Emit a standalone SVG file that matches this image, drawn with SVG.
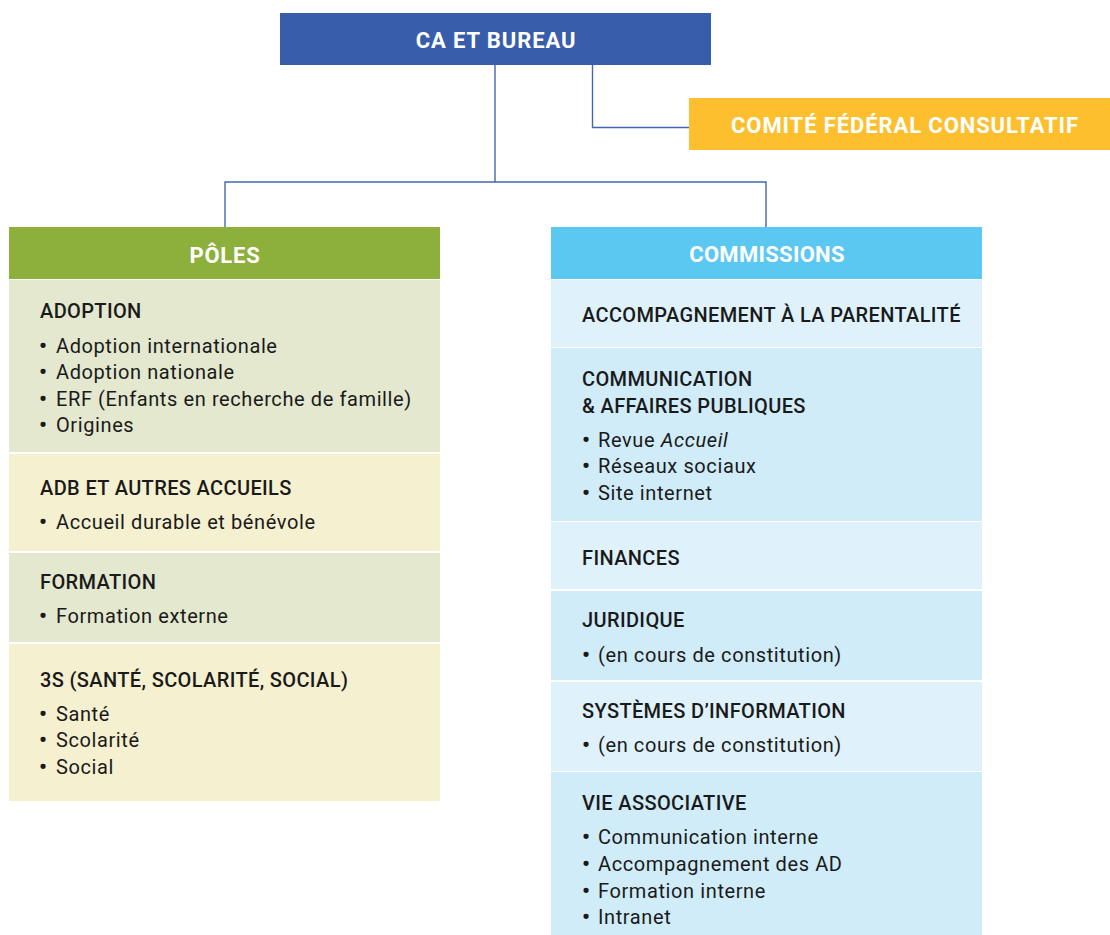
<svg xmlns="http://www.w3.org/2000/svg" width="1110" height="935" viewBox="0 0 1110 935">
<style>
.hdr{font-family:Roboto,"Liberation Sans",sans-serif;font-weight:700;font-size:22px;fill:#fff;text-anchor:middle}
.h{font-family:Roboto,"Liberation Sans",sans-serif;font-weight:500;font-size:20px;letter-spacing:0.37px;fill:#1a1a1a}
.t{font-family:Roboto,"Liberation Sans",sans-serif;font-weight:400;font-size:20px;letter-spacing:0.6px;fill:#1a1a1a}
.bu{font-weight:700;font-size:22px}
.con{fill:none;stroke:#4466b0;stroke-width:1.4}
.g1{fill:#e3e8cf}.g2{fill:#f5f0d0}.b1{fill:#dff2fb}.b2{fill:#d0ecf9}
</style>
<rect width="1110" height="935" fill="#fff"/>
<g id="connectors">
<path class="con" d="M495 65V182M225 228V182H766V228"/>
<path class="con" d="M592.5 65V127.5H690"/>
</g>
<g id="ca-bureau">
<rect x="280" y="13" width="431" height="52" fill="#385daa"/>
<text class="hdr" x="496" y="48" letter-spacing="0.9">CA ET BUREAU</text>
</g>
<g id="comite">
<rect x="689" y="98" width="421" height="52" fill="#fdbf2d"/>
<text class="hdr" x="905" y="133" letter-spacing="0.9">COMITÉ FÉDÉRAL CONSULTATIF</text>
</g>
<g id="poles">
<rect x="9" y="227" width="431" height="52" fill="#8db03c"/>
<text class="hdr" x="225" y="263" letter-spacing="0.8">PÔLES</text>
</g>
<g id="adoption">
<rect class="g1" x="9" y="280" width="431" height="172"/>
<text class="h" x="40" y="318">ADOPTION</text>
<text class="t"><tspan class="bu" x="39" y="353">•</tspan><tspan x="56">Adoption internationale</tspan></text>
<text class="t"><tspan class="bu" x="39" y="379">•</tspan><tspan x="56">Adoption nationale</tspan></text>
<text class="t"><tspan class="bu" x="39" y="406">•</tspan><tspan x="56">ERF (Enfants en recherche de famille)</tspan></text>
<text class="t"><tspan class="bu" x="39" y="432">•</tspan><tspan x="56">Origines</tspan></text>
</g>
<g id="adb">
<rect class="g2" x="9" y="454" width="431" height="97"/>
<text class="h" x="40" y="495">ADB ET AUTRES ACCUEILS</text>
<text class="t"><tspan class="bu" x="39" y="529">•</tspan><tspan x="56">Accueil durable et bénévole</tspan></text>
</g>
<g id="formation">
<rect class="g1" x="9" y="553" width="431" height="89"/>
<text class="h" x="40" y="589">FORMATION</text>
<text class="t"><tspan class="bu" x="39" y="623">•</tspan><tspan x="56">Formation externe</tspan></text>
</g>
<g id="trois-s">
<rect class="g2" x="9" y="644" width="431" height="157"/>
<text class="h" x="40" y="687">3S (SANTÉ, SCOLARITÉ, SOCIAL)</text>
<text class="t"><tspan class="bu" x="39" y="721">•</tspan><tspan x="56">Santé</tspan></text>
<text class="t"><tspan class="bu" x="39" y="747">•</tspan><tspan x="56">Scolarité</tspan></text>
<text class="t"><tspan class="bu" x="39" y="774">•</tspan><tspan x="56">Social</tspan></text>
</g>
<g id="commissions">
<rect x="551" y="227" width="431" height="52" fill="#5bc8f2"/>
<text class="hdr" x="767" y="262" letter-spacing="0.3">COMMISSIONS</text>
</g>
<g id="accompagnement">
<rect class="b1" x="551" y="280" width="431" height="67"/>
<text class="h" x="582" y="322">ACCOMPAGNEMENT À LA PARENTALITÉ</text>
</g>
<g id="communication">
<rect class="b2" x="551" y="348" width="431" height="173"/>
<text class="h" x="582" y="386">COMMUNICATION</text>
<text class="h" x="582" y="413">&amp; AFFAIRES PUBLIQUES</text>
<text class="t"><tspan class="bu" x="582" y="447">•</tspan><tspan x="598">Revue </tspan><tspan font-style="italic">Accueil</tspan></text>
<text class="t"><tspan class="bu" x="582" y="473">•</tspan><tspan x="598">Réseaux sociaux</tspan></text>
<text class="t"><tspan class="bu" x="582" y="500">•</tspan><tspan x="598">Site internet</tspan></text>
</g>
<g id="finances">
<rect class="b1" x="551" y="522" width="431" height="67"/>
<text class="h" x="582" y="565">FINANCES</text>
</g>
<g id="juridique">
<rect class="b2" x="551" y="591" width="431" height="89"/>
<text class="h" x="582" y="627">JURIDIQUE</text>
<text class="t"><tspan class="bu" x="582" y="662">•</tspan><tspan x="598">(en cours de constitution)</tspan></text>
</g>
<g id="systemes">
<rect class="b1" x="551" y="682" width="431" height="89"/>
<text class="h" x="582" y="718">SYSTÈMES D’INFORMATION</text>
<text class="t"><tspan class="bu" x="582" y="752">•</tspan><tspan x="598">(en cours de constitution)</tspan></text>
</g>
<g id="vie-associative">
<rect class="b2" x="551" y="772" width="431" height="163"/>
<text class="h" x="582" y="810">VIE ASSOCIATIVE</text>
<text class="t"><tspan class="bu" x="582" y="844">•</tspan><tspan x="598">Communication interne</tspan></text>
<text class="t"><tspan class="bu" x="582" y="871">•</tspan><tspan x="598">Accompagnement des AD</tspan></text>
<text class="t"><tspan class="bu" x="582" y="898">•</tspan><tspan x="598">Formation interne</tspan></text>
<text class="t"><tspan class="bu" x="582" y="924">•</tspan><tspan x="598">Intranet</tspan></text>
</g>
</svg>
